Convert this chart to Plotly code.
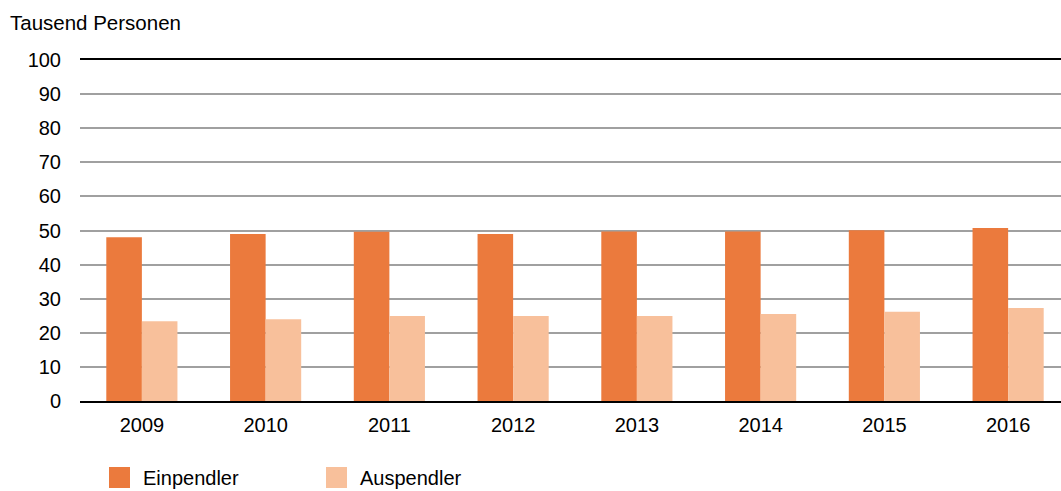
import plotly.graph_objects as go

years = ["2009", "2010", "2011", "2012", "2013", "2014", "2015", "2016"]
einpendler = [48.0, 49.0, 49.6, 49.0, 49.7, 49.7, 50.1, 50.7]
auspendler = [23.4, 24.0, 24.9, 24.9, 24.9, 25.5, 26.2, 27.3]
y_ticks = [0, 10, 20, 30, 40, 50, 60, 70, 80, 90, 100]
series_names = ["Einpendler", "Auspendler"]
series_colors = ["#EB7A3D", "#F8C09B"]

FONT = "Liberation Sans, Arial, sans-serif"
W, H = 1070, 491
ML, MR, MT, MB = 80, 0, 60, 90
PW, PH = W - ML - MR, H - MT - MB


def px(x):
    return (x - ML) / PW


def py(y):
    return (H - MB - y) / PH


fig = go.Figure()
for name, vals, col in zip(series_names, [einpendler, auspendler], series_colors):
    fig.add_trace(go.Bar(x=years, y=vals, name=name,
                         marker=dict(color=col, line=dict(width=0))))

shapes = []
annotations = [dict(text="Tausend Personen", xref="paper", yref="paper",
                    x=px(8), y=py(22), xanchor="left", yanchor="middle",
                    showarrow=False, font=dict(size=20.5))]
legend_x = [109, 326]
for lx, name, col in zip(legend_x, series_names, series_colors):
    shapes.append(dict(type="rect", xref="paper", yref="paper",
                       x0=px(lx), x1=px(lx + 21), y0=py(488), y1=py(467),
                       fillcolor=col, line=dict(width=0)))
    annotations.append(dict(text=name, xref="paper", yref="paper",
                            x=px(lx + 32), y=py(478),
                            xanchor="left", yanchor="middle", showarrow=False,
                            font=dict(size=20)))

fig.update_layout(
    width=W, height=H,
    margin=dict(l=ML, r=MR, t=MT, b=MB, autoexpand=False),
    paper_bgcolor="white", plot_bgcolor="white",
    barmode="group", bargap=0.425, bargroupgap=0,
    font=dict(family=FONT, size=20, color="#000000"),
    showlegend=False,
    shapes=shapes,
    annotations=annotations,
)
fig.update_xaxes(showline=True, linecolor="#000000", linewidth=1.5, mirror=True,
                 ticks="", showgrid=False, tickfont=dict(size=20),
                 ticklabelstandoff=5, automargin=False)
fig.update_yaxes(range=[0, 100], tickvals=y_ticks, showgrid=True,
                 gridcolor="#A0A0A0", gridwidth=1.5, zeroline=False,
                 ticks="", tickfont=dict(size=20), ticklabelstandoff=18,
                 automargin=False)

fig.write_html(
    "out.html",
    config={"displayModeBar": False},
    post_script="document.body.style.margin='0';"
                "document.body.style.overflow='hidden';"
                "document.documentElement.style.overflow='hidden';",
)
